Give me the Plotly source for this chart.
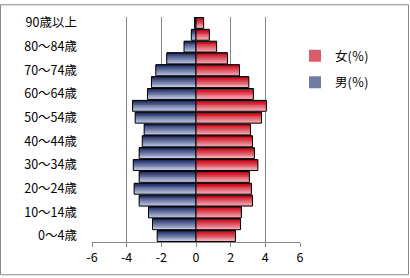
import plotly.graph_objects as go

# ---- data ----
age_groups = ["0～4歳", "5～9歳", "10～14歳", "15～19歳", "20～24歳", "25～29歳",
              "30～34歳", "35～39歳", "40～44歳", "45～49歳", "50～54歳", "55～59歳",
              "60～64歳", "65～69歳", "70～74歳", "75～79歳", "80～84歳", "85～89歳",
              "90歳以上"]
male_pct = [2.24, 2.51, 2.74, 3.28, 3.57, 3.28, 3.62, 3.28, 3.10, 2.99, 3.51, 3.66,
            2.80, 2.57, 2.32, 1.69, 0.69, 0.27, 0.08]
female_pct = [2.28, 2.57, 2.62, 3.26, 3.20, 3.08, 3.57, 3.37, 3.26, 3.14, 3.78, 4.06,
              3.31, 3.05, 2.51, 1.82, 1.19, 0.77, 0.44]
male_name = "男(％)"
female_name = "女(％)"
x_ticks = [-6, -4, -2, 0, 2, 4, 6]

# ---- style ----
FONT = "Noto Sans CJK JP"
N = 12
BAR_W = 0.92
male_dark, male_light = (28, 42, 100), (212, 220, 238)
fem_dark, fem_light = (196, 0, 16), (244, 200, 208)


def mix(c1, c2, t):
    return "rgb(%d,%d,%d)" % tuple(round(a + (b - a) * t) for a, b in zip(c1, c2))


male_x = [-v for v in male_pct]
idx = list(range(len(age_groups)))

fig = go.Figure()
sw = BAR_W / N
for name, xs, dark, light, leg in [(male_name, male_x, male_dark, male_light, "legend2"),
                                   (female_name, female_pct, fem_dark, fem_light, "legend")]:
    for k in range(N):
        # k = 0 bottom (light) ... N-1 top (dark)
        t = 1 - (k + 0.5) / N
        col = mix(dark, light, t)
        fig.add_trace(go.Bar(
            y=idx, x=xs, orientation="h", name=name,
            width=sw * 1.2, offset=-BAR_W / 2 + k * sw - sw * 0.1,
            marker=dict(color=col, line=dict(width=0)),
            showlegend=(k == N // 2), legend=leg, hoverinfo="skip"))
    fig.add_trace(go.Bar(
        y=idx, x=xs, orientation="h", name=name,
        width=BAR_W, offset=-BAR_W / 2,
        marker=dict(color="rgba(0,0,0,0)", line=dict(color="black", width=1)),
        showlegend=False))

W, H = 410, 278
L, R, T, B = 92, 110, 13, 35
pw, ph = W - L - R, H - T - B

fig.update_layout(
    width=W, height=H, barmode="overlay",
    margin=dict(l=L, r=R, t=T, b=B),
    paper_bgcolor="white", plot_bgcolor="white",
    font=dict(family=FONT, size=12.5, color="black"),
    xaxis=dict(range=[-6, 6], tickvals=x_ticks, ticktext=[str(v) for v in x_ticks],
               showgrid=True, gridcolor="#868686", gridwidth=1,
               zeroline=True, zerolinecolor="#868686", zerolinewidth=1,
               showline=True, linecolor="#868686", linewidth=1,
               ticks="outside", ticklen=4, tickcolor="#868686", fixedrange=True),
    yaxis=dict(range=[-0.5, len(age_groups) - 0.5],
               tickvals=idx[::2], ticktext=age_groups[::2],
               showgrid=False, zeroline=False, showline=False, ticks="",
               ticklabelstandoff=14, fixedrange=True),
    legend=dict(x=(295 - L) / pw, y=(H - B - 53) / ph, xanchor="left", yanchor="middle",
                bgcolor="rgba(0,0,0,0)", font=dict(size=12.5)),
    legend2=dict(x=(295 - L) / pw, y=(H - B - 80) / ph, xanchor="left", yanchor="middle",
                 bgcolor="rgba(0,0,0,0)", font=dict(size=12.5)),
    shapes=[dict(type="rect", xref="paper", yref="paper",
                 x0=(0.5 - L) / pw, x1=(W - 1.5 - L) / pw,
                 y0=(H - B - (H - 1.5)) / ph, y1=(H - B - 0.5) / ph,
                 line=dict(color="#888888", width=1), layer="below")],
)

fig.write_html("out.html")
